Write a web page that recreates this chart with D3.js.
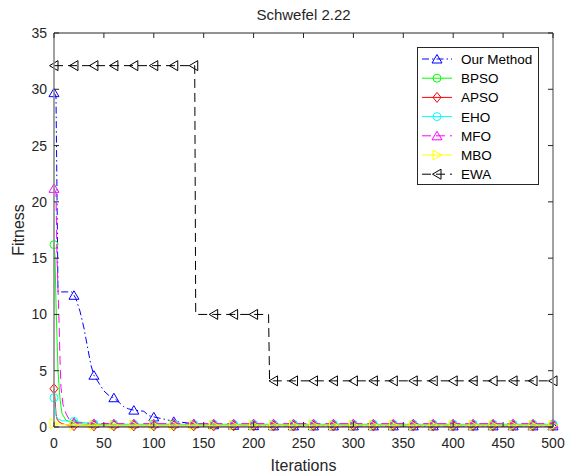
<!doctype html>
<html lang="en">
<head>
  <meta charset="utf-8">
  <title>Schwefel 2.22</title>
  <style>
    body { margin: 0; background: #fff; }
    svg { font-family: 'Liberation Sans', Arial, sans-serif; }
    .tick-label { font-size: 14px; fill: #262626; }
    .axis-label { font-size: 16px; fill: #262626; }
    .legend text { font-size: 13.5px; fill: #000; }
  </style>
</head>
<body>
  <div id="chart"></div>

  <script src="https://d3js.org/d3.v7.min.js"></script>
  <script>
    // iterations where markers are drawn
    const markIters = [0, 20, 40, 60, 80, 100, 120, 140, 160, 180, 200, 220, 240,
      260, 280, 300, 320, 340, 360, 380, 400, 420, 440, 460, 480, 500];

    // fitness at the marker iterations
    const ourMethodMarks = [29.7, 11.7, 4.6, 2.6, 1.5, 0.9, 0.5, 0.3, 0.2, 0.15, 0.12, 0.1, 0.1,
      0.1, 0.1, 0.1, 0.1, 0.1, 0.1, 0.1, 0.1, 0.1, 0.1, 0.1, 0.1, 0.1];
    const bpsoMarks = [16.2, 0.3, 0.22, 0.2, 0.2, 0.2, 0.2, 0.2, 0.2, 0.2, 0.2, 0.2, 0.2,
      0.2, 0.2, 0.2, 0.2, 0.2, 0.2, 0.2, 0.2, 0.2, 0.2, 0.2, 0.2, 0.2];
    const apsoMarks = [3.4, 0.12, 0.1, 0.1, 0.1, 0.1, 0.1, 0.1, 0.1, 0.1, 0.1, 0.1, 0.1,
      0.1, 0.1, 0.1, 0.1, 0.1, 0.1, 0.1, 0.1, 0.1, 0.1, 0.1, 0.1, 0.1];
    const ehoMarks = [2.6, 0.5, 0.28, 0.25, 0.25, 0.25, 0.25, 0.25, 0.25, 0.25, 0.25, 0.25, 0.25,
      0.25, 0.25, 0.25, 0.25, 0.25, 0.25, 0.25, 0.25, 0.25, 0.25, 0.25, 0.25, 0.25];
    const mfoMarks = [21.2, 0.4, 0.32, 0.3, 0.3, 0.3, 0.3, 0.3, 0.3, 0.3, 0.3, 0.3, 0.3,
      0.3, 0.3, 0.3, 0.3, 0.3, 0.3, 0.3, 0.3, 0.3, 0.3, 0.3, 0.3, 0.3];
    const mboMarks = [0.3, 0.15, 0.15, 0.15, 0.15, 0.15, 0.15, 0.15, 0.15, 0.15, 0.15, 0.15, 0.15,
      0.15, 0.15, 0.15, 0.15, 0.15, 0.15, 0.15, 0.15, 0.15, 0.15, 0.15, 0.15, 0.15];
    const ewaMarks = [32.1, 32.1, 32.1, 32.1, 32.1, 32.1, 32.1, 32.1, 10, 10, 10, 4.1, 4.1,
      4.1, 4.1, 4.1, 4.1, 4.1, 4.1, 4.1, 4.1, 4.1, 4.1, 4.1, 4.1, 4.1];

    // extra points between markers, [iteration, fitness]
    const ourMethodExtra = [[2, 29.4], [4, 12.0], [18, 12.0], [22, 11.4], [26, 10.3], [30, 8.8],
      [34, 6.9], [37, 5.5], [45, 3.9], [50, 3.2], [55, 2.8], [65, 2.2], [70, 1.8], [75, 1.6],
      [90, 1.4], [95, 1.0]];
    const bpsoExtra = [[1, 15.2], [2, 11], [3, 8], [4, 5], [6, 2.5], [8, 1.2], [12, 0.6]];
    const apsoExtra = [[1, 2.5], [2, 1.2], [3, 0.7], [5, 0.45], [8, 0.3], [12, 0.2]];
    const ehoExtra = [[2, 1.0], [4, 0.7], [8, 0.55]];
    const mfoExtra = [[2, 20.8], [3, 15], [5, 9.5], [6, 6], [7, 3.5], [9, 2.0], [12, 1.2], [15, 0.7]];
    const mboExtra = [];
    const ewaExtra = [[141, 32.1], [142, 10], [215, 10], [216, 4.1]];

    const series = [
      { name: 'Our Method', color: '#0000ff', dash: '7,3,1.5,3', marker: 'up', marks: ourMethodMarks, extra: ourMethodExtra },
      { name: 'BPSO', color: '#00ff00', dash: null, marker: 'circle', marks: bpsoMarks, extra: bpsoExtra },
      { name: 'APSO', color: '#ff0000', dash: null, marker: 'diamond', marks: apsoMarks, extra: apsoExtra },
      { name: 'EHO', color: '#00ffff', dash: null, marker: 'circle', marks: ehoMarks, extra: ehoExtra },
      { name: 'MFO', color: '#ff00ff', dash: '9,5', marker: 'up', marks: mfoMarks, extra: mfoExtra },
      { name: 'MBO', color: '#ffff00', dash: null, marker: 'right', marks: mboMarks, extra: mboExtra },
      { name: 'EWA', color: '#000000', dash: '9,5', marker: 'left', marks: ewaMarks, extra: ewaExtra }
    ];

    const xTicks = [0, 50, 100, 150, 200, 250, 300, 350, 400, 450, 500];
    const yTicks = [0, 5, 10, 15, 20, 25, 30, 35];

    const width = 566, height = 476;
    const margin = { top: 33, right: 13, bottom: 49, left: 54 };

    const svg = d3.select('#chart').append('svg')
      .attr('width', width)
      .attr('height', height);

    const x = d3.scaleLinear().domain([0, 500]).range([margin.left, width - margin.right]);
    const y = d3.scaleLinear().domain([0, 35]).range([height - margin.bottom, margin.top]);

    // marker shapes
    const markerPath = {
      up: 'M0,-4.5L5,4L-5,4Z',
      left: 'M-4.5,0L4,-5L4,5Z',
      right: 'M4.5,0L-4,-5L-4,5Z',
      diamond: 'M0,-5L4,0L0,5L-4,0Z',
      circle: d3.symbol(d3.symbolCircle, 50)()
    };

    const line = d3.line()
      .x(d => x(d[0]))
      .y(d => y(d[1]));

    // lines and markers
    series.forEach(s => {
      const markPts = markIters.map((it, i) => [it, s.marks[i]]);
      const pts = markPts.concat(s.extra).sort((a, b) => a[0] - b[0]);

      svg.append('path')
        .datum(pts)
        .attr('d', line)
        .attr('fill', 'none')
        .attr('stroke', s.color)
        .attr('stroke-width', 1)
        .attr('stroke-dasharray', s.dash);

      svg.append('g')
        .selectAll('path')
        .data(markPts)
        .join('path')
        .attr('d', markerPath[s.marker])
        .attr('transform', d => `translate(${x(d[0])},${y(d[1])})`)
        .attr('fill', 'none')
        .attr('stroke', s.color)
        .attr('stroke-width', 1);
    });

    // axes box
    const x0 = x(0), x1 = x(500), y0 = y(0), y1 = y(35);
    svg.append('line').attr('x1', x0).attr('x2', x1).attr('y1', y1).attr('y2', y1).attr('stroke', '#262626');
    svg.append('line').attr('x1', x0).attr('x2', x1).attr('y1', y0).attr('y2', y0).attr('stroke', '#262626');
    svg.append('line').attr('x1', x0).attr('x2', x0).attr('y1', y0).attr('y2', y1).attr('stroke', '#8a8a8a').attr('stroke-width', 1.6);
    svg.append('line').attr('x1', x1).attr('x2', x1).attr('y1', y0).attr('y2', y1).attr('stroke', '#8a8a8a').attr('stroke-width', 1.6);

    const tickLen = 5;
    const gx = svg.append('g');
    xTicks.forEach(t => {
      gx.append('line').attr('x1', x(t)).attr('x2', x(t)).attr('y1', y0).attr('y2', y0 - tickLen).attr('stroke', '#262626');
      gx.append('line').attr('x1', x(t)).attr('x2', x(t)).attr('y1', y1).attr('y2', y1 + tickLen).attr('stroke', '#262626');
      gx.append('text').attr('class', 'tick-label')
        .attr('x', x(t)).attr('y', y0 + 21)
        .attr('text-anchor', 'middle')
        .text(t);
    });

    const gy = svg.append('g');
    yTicks.forEach(t => {
      gy.append('line').attr('x1', x0).attr('x2', x0 + tickLen).attr('y1', y(t)).attr('y2', y(t)).attr('stroke', '#262626');
      gy.append('line').attr('x1', x1).attr('x2', x1 - tickLen).attr('y1', y(t)).attr('y2', y(t)).attr('stroke', '#262626');
      gy.append('text').attr('class', 'tick-label')
        .attr('x', x0 - 7).attr('y', y(t) + 5)
        .attr('text-anchor', 'end')
        .text(t);
    });

    // title and axis labels
    svg.append('text').attr('class', 'axis-label')
      .attr('x', (x0 + x1) / 2).attr('y', 20)
      .attr('text-anchor', 'middle')
      .style('font-size', '15px')
      .text('Schwefel 2.22');

    svg.append('text').attr('class', 'axis-label')
      .attr('x', (x0 + x1) / 2).attr('y', 471)
      .attr('text-anchor', 'middle')
      .text('Iterations');

    svg.append('text').attr('class', 'axis-label')
      .attr('transform', `translate(24,${(y0 + y1) / 2}) rotate(-90)`)
      .attr('text-anchor', 'middle')
      .text('Fitness');

    // legend
    const legend = svg.append('g').attr('class', 'legend');
    legend.append('rect')
      .attr('x', 417.5).attr('y', 47.5)
      .attr('width', 121).attr('height', 137)
      .attr('fill', '#fff')
      .attr('stroke', '#262626');

    const rows = legend.selectAll('g.row')
      .data(series)
      .join('g')
      .attr('class', 'row')
      .attr('transform', (d, i) => `translate(0,${59 + i * 19.2})`);

    rows.append('line')
      .attr('x1', 422).attr('x2', 452)
      .attr('stroke', d => d.color)
      .attr('stroke-dasharray', d => d.dash);

    rows.append('path')
      .attr('d', d => markerPath[d.marker])
      .attr('transform', 'translate(437,0)')
      .attr('fill', 'none')
      .attr('stroke', d => d.color);

    rows.append('text')
      .attr('x', 461).attr('y', 5)
      .text(d => d.name);
  </script>
</body>
</html>
